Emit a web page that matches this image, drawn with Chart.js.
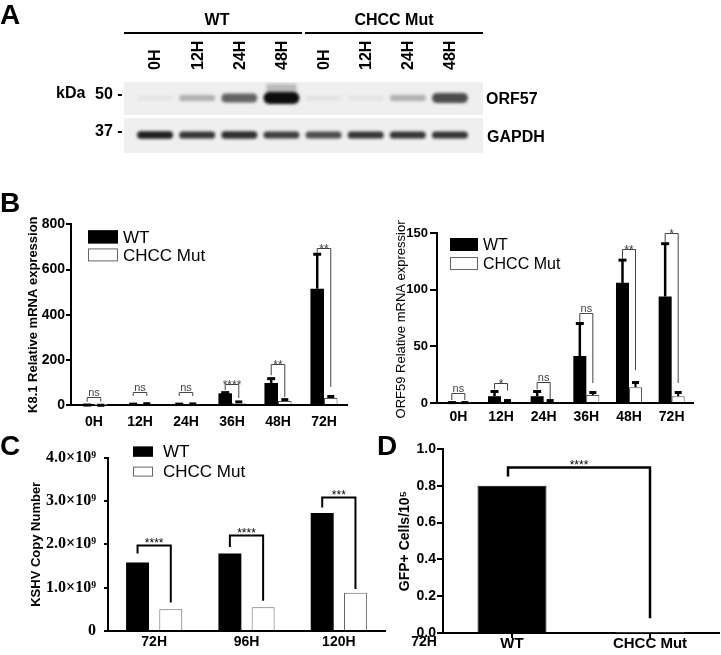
<!DOCTYPE html>
<html><head><meta charset="utf-8">
<script src="https://cdn.jsdelivr.net/npm/chart.js@4.4.1/dist/chart.umd.min.js"></script>
<style>
body{margin:0;background:#fff;width:721px;height:655px;position:relative;overflow:hidden;font-family:"Liberation Sans",Arial,sans-serif;}
canvas{position:absolute;}
.t{position:absolute;font-weight:bold;color:#000;white-space:nowrap;line-height:1;}
.c{transform:translateX(-50%);}
.ln{position:absolute;background:#000;height:2px;}
</style></head><body>
<canvas id="blot" width="721" height="180" style="left:0;top:0"></canvas>
<canvas id="k81" width="350" height="215" style="left:0;top:215px"></canvas>
<canvas id="orf59" width="361" height="215" style="left:360px;top:220px"></canvas>
<canvas id="kshv" width="400" height="215" style="left:0;top:440px"></canvas>
<canvas id="gfp" width="361" height="220" style="left:360px;top:435px"></canvas>

<div class="t" style="left:0;top:1px;font-size:28px">A</div>
<div class="t" style="left:0;top:189px;font-size:28px">B</div>
<div class="t" style="left:0;top:432px;font-size:28px">C</div>
<div class="t" style="left:377px;top:432px;font-size:28px">D</div>

<div class="t c" style="left:217px;top:12px;font-size:16px">WT</div>
<div class="t c" style="left:394px;top:12px;font-size:16px">CHCC Mut</div>
<div class="ln" style="left:124px;top:32px;width:178px"></div>
<div class="ln" style="left:305px;top:32px;width:178px"></div>
<div class="t" style="left:56px;top:85px;font-size:16px">kDa</div>
<div class="t" style="left:95px;top:86px;font-size:16px">50 -</div>
<div class="t" style="left:95px;top:123px;font-size:16px">37 -</div>
<div class="t" style="left:486px;top:91px;font-size:16px">ORF57</div>
<div class="t" style="left:487px;top:129px;font-size:16px">GAPDH</div>
<div class="t c" style="left:424px;top:634px;font-size:14px">72H</div>

<script>
// ---------------- DATA ----------------
const blotLanes = ['0H','12H','24H','48H','0H','12H','24H','48H'];
const orf57Intensity = [0.05, 0.28, 0.62, 1.0, 0.06, 0.05, 0.28, 0.72];
const gapdhIntensity = [0.92, 0.82, 0.85, 0.78, 0.72, 0.82, 0.82, 0.82];

const timeCats = ['0H','12H','24H','36H','48H','72H'];
const k81WT      = [1, 3, 3, 52, 97, 515];
const k81WTErr   = [2, 6, 6, 57, 119, 670];
const k81Mut     = [0.5, 4, 3, 9, 18, 31];
const k81MutErr  = [1, 8, 7, 16, 26, 40];
const k81SigTop  = [35, 57, 57, 93, 181, 697];
const k81SigL    = [15, 40, 40, 66, 132, 671];
const k81SigR    = [15, 40, 40, 31, 35, 80];
const k81SigLab  = ['ns','ns','ns','****','**','**'];

const orf59WT     = [0.5, 6, 6, 41.5, 106, 94];
const orf59WTErr  = [0.8, 10.6, 10.6, 70.6, 126.5, 141];
const orf59Mut    = [0.5, 1, 1, 7, 14, 6];
const orf59MutErr = [0.8, 2.6, 2.6, 9.7, 18.5, 9.7];
const orf59SigTop = [8.8, 17.6, 18.5, 79, 136, 150];
const orf59SigL   = [2.6, 12, 12, 71, 127, 142];
const orf59SigR   = [2.6, 11, 3.5, 17.6, 29, 17.6];
const orf59SigLab = ['ns','*','ns','ns','**','*'];

const kshvCats    = ['72H','96H','120H'];
const kshvWT      = [1.58e9, 1.79e9, 2.72e9];
const kshvMut     = [0.50e9, 0.55e9, 0.88e9];
const kshvSigTop  = [1.99e9, 2.21e9, 3.10e9];
const kshvSigL    = [1.79e9, 1.94e9, 2.85e9];
const kshvSigR    = [0.66e9, 0.70e9, 0.97e9];
const kshvSigLab  = ['****','****','***'];
const kshvTickLabels = ['0','1.0\u00d710\u2079','2.0\u00d710\u2079','3.0\u00d710\u2079','4.0\u00d710\u2079'];

const gfpCats   = ['WT','CHCC Mut'];
const gfpValues = [0.80, 0.003];
const gfpSigTop = [0.90];
const gfpSigL   = [0.85];
const gfpSigR   = [0.08];
const gfpSigLab = ['****'];

// ---------------- PLUGINS ----------------
const SANS = '"Liberation Sans", Arial, sans-serif';
const SERIF = '"Liberation Serif", "Times New Roman", serif';
Chart.defaults.font.family = SANS;
Chart.defaults.color = '#000';

const errPlugin = {
  id:'errbars',
  afterDatasetsDraw(chart, args, o){
    if(!o || !o.sets) return;
    const ctx = chart.ctx, y = chart.scales.y;
    ctx.save();
    o.sets.forEach(s=>{
      const meta = chart.getDatasetMeta(s.dataset);
      meta.data.forEach((bar,i)=>{
        const t = s.tops[i]; if(t==null) return;
        const yt = y.getPixelForValue(t);
        ctx.strokeStyle='#000'; ctx.lineWidth=s.lineWidth;
        ctx.beginPath(); ctx.moveTo(bar.x, bar.y); ctx.lineTo(bar.x, yt); ctx.stroke();
        ctx.fillStyle='#000';
        ctx.fillRect(bar.x - s.cap/2, yt - 1, s.cap, s.capH);
      });
    });
    ctx.restore();
  }
};

const sigPlugin = {
  id:'sig',
  afterDatasetsDraw(chart, args, o){
    if(!o || !o.tops) return;
    const ctx = chart.ctx, y = chart.scales.y;
    ctx.save();
    ctx.strokeStyle=o.color; ctx.fillStyle=o.labelColor||o.color; ctx.lineWidth=o.lineWidth;
    ctx.textAlign='center'; ctx.textBaseline='alphabetic';
    o.tops.forEach((t,i)=>{
      let x1,x2;
      if(o.single){ const d=chart.getDatasetMeta(0).data; x1=d[0].x + (o.dx1||0); x2=d[1].x; }
      else { x1=chart.getDatasetMeta(0).data[i].x; x2=chart.getDatasetMeta(1).data[i].x; }
      const yt=Math.round(y.getPixelForValue(t))+0.5;
      const yl=y.getPixelForValue(o.lefts[i]), yr=y.getPixelForValue(o.rights[i]);
      ctx.beginPath(); ctx.moveTo(x1,yl); ctx.lineTo(x1,yt); ctx.lineTo(x2,yt); ctx.lineTo(x2,yr); ctx.stroke();
      const lab=o.labels[i];
      const star = lab.indexOf('*')>=0;
      ctx.font = star ? o.starFont : o.font;
      ctx.fillText(lab,(x1+x2)/2, star ? yt + o.starOff : yt - o.textOff);
    });
    ctx.restore();
  }
};

const boxLegend = {
  id:'boxLegend',
  afterDraw(chart, args, o){
    if(!o || o.x==null) return;
    const ca=chart.chartArea, ctx=chart.ctx;
    ctx.save();
    chart.data.datasets.forEach((ds,i)=>{
      const bx=ca.left+o.x, by=ca.top+o.y+i*o.dy;
      ctx.fillStyle=ds.backgroundColor; ctx.fillRect(bx,by,o.w,o.h);
      ctx.strokeStyle= i===0 ? '#000' : '#666'; ctx.lineWidth=1;
      ctx.strokeRect(bx+0.5,by+0.5,o.w-1,o.h-1);
      ctx.fillStyle='#000'; ctx.font=o.font; ctx.textBaseline='middle'; ctx.textAlign='left';
      ctx.fillText(ds.label, bx+o.w+o.gap, by+o.h/2+1);
    });
    ctx.restore();
  }
};

const blotPlugin = {
  id:'blot',
  afterDraw(chart, args, o){
    if(!o || !o.rows) return;
    const ctx=chart.ctx, ca=chart.chartArea, xs=chart.scales.x;
    ctx.save();
    o.rows.forEach(r=>{
      const top=ca.top+r.top, bot=ca.top+r.bottom;
      ctx.fillStyle='#efefef';
      ctx.fillRect(ca.left-o.padL, top, ca.right-ca.left+o.padL+o.padR, bot-top);
    });
    ctx.filter='blur(1.6px)';
    o.rows.forEach(r=>{
      r.values.forEach((v,i)=>{
        const x=xs.getPixelForValue(i);
        const yc=ca.top+r.center;
        if(v>0.9 && r.smear){
          ctx.fillStyle='rgba(0,0,0,0.22)';
          ctx.fillRect(x-r.w/2+3, ca.top+r.top+2, r.w-6, r.center-r.top);
        }
        const h=r.h0+r.h1*v, w=r.w;
        ctx.fillStyle='rgba(12,12,12,'+Math.min(1,v)+')';
        ctx.beginPath(); ctx.roundRect(x-w/2, yc-h/2, w, h, h/2); ctx.fill();
      });
    });
    ctx.filter='none';
    ctx.fillStyle='#000'; ctx.font='bold 16px '+SANS; ctx.textAlign='left'; ctx.textBaseline='middle';
    chart.data.labels.forEach((lab,i)=>{
      const x=xs.getPixelForValue(i);
      ctx.save(); ctx.translate(x+1, o.labelY); ctx.rotate(-Math.PI/2); ctx.fillText(lab,0,0); ctx.restore();
    });
    ctx.restore();
  }
};

Chart.register(errPlugin, sigPlugin, boxLegend, blotPlugin);

const base = {responsive:false, animation:false, devicePixelRatio:1, events:[]};

// ---------------- A: blot ----------------
new Chart(document.getElementById('blot'), {
  type:'bar',
  data:{labels:blotLanes, datasets:[{data:orf57Intensity, backgroundColor:'rgba(0,0,0,0)'}]},
  options:Object.assign({}, base, {
    layout:{padding:{left:134,right:250,top:82,bottom:27}},
    scales:{x:{display:false}, y:{display:false,min:0,max:1}},
    plugins:{legend:{display:false},tooltip:{enabled:false},
      blot:{padL:10,padR:12,labelY:70,
        rows:[{top:0,bottom:33,center:16,values:orf57Intensity,w:36,h0:4,h1:8,smear:true},
              {top:36,bottom:71,center:53,values:gapdhIntensity,w:36,h0:6,h1:1.5,smear:false}]}}
  })
});

// ---------------- helpers ----------------
function yAxis(o){
  return {min:o.min,max:o.max,
    ticks:{stepSize:o.step,font:o.tickFont,color:'#000',padding:o.tickPad,callback:o.cb},
    grid:{drawOnChartArea:false,drawTicks:true,tickLength:o.tickLen,color:'#000',lineWidth:o.lw},
    border:{display:true,color:'#000',width:o.lw},
    title:{display:true,text:o.title,font:o.titleFont,color:'#000',padding:{top:o.titlePad,bottom:0}},
    afterFit(s){s.width=o.width;}};
}
function xAxis(o){
  return {
    ticks:{font:o.tickFont,color:'#000',padding:o.tickPad,autoSkip:false,maxRotation:0},
    grid:{display:!!o.tickLen,offset:false,drawOnChartArea:false,drawTicks:!!o.tickLen,tickLength:o.tickLen||0,color:'#000',lineWidth:o.lw},
    border:{display:true,color:'#000',width:o.lw},
    afterFit(s){s.height=o.height;}};
}

// ---------------- B left: K8.1 ----------------
new Chart(document.getElementById('k81'), {
  type:'bar',
  data:{labels:timeCats, datasets:[
    {label:'WT', data:k81WT, backgroundColor:'#000', borderColor:'#000', borderWidth:0, barPercentage:1, categoryPercentage:0.59},
    {label:'CHCC Mut', data:k81Mut, backgroundColor:'#fff', borderColor:'#555', borderWidth:1, barPercentage:1, categoryPercentage:0.59}]},
  options:Object.assign({}, base, {
    layout:{padding:{left:0,right:3,top:9,bottom:0}},
    scales:{
      x:xAxis({tickFont:{size:14,weight:'bold'},tickPad:9,lw:2,height:25}),
      y:yAxis({min:0,max:800,step:200,tickFont:{size:14,weight:'bold'},tickPad:1,tickLen:5,lw:2,
        title:'K8.1 Relative mRNA expression',titleFont:{size:13,weight:'bold'},titlePad:26,width:71})
    },
    plugins:{legend:{display:false},tooltip:{enabled:false},
      errbars:{sets:[{dataset:0,tops:k81WTErr,lineWidth:2.5,cap:8,capH:3},{dataset:1,tops:k81MutErr,lineWidth:2,cap:7,capH:3}]},
      sig:{tops:k81SigTop,lefts:k81SigL,rights:k81SigR,labels:k81SigLab,color:'#444',lineWidth:1,
        font:'11px '+SANS,starFont:'12px '+SANS,textOff:2,starOff:4},
      boxLegend:{x:17,y:6,dy:18,w:30,h:13,gap:5,font:'17px '+SANS}}
  })
});

// ---------------- B right: ORF59 ----------------
new Chart(document.getElementById('orf59'), {
  type:'bar',
  data:{labels:timeCats, datasets:[
    {label:'WT', data:orf59WT, backgroundColor:'#000', borderColor:'#000', borderWidth:0, barPercentage:1, categoryPercentage:0.61},
    {label:'CHCC Mut', data:orf59Mut, backgroundColor:'#fff', borderColor:'#555', borderWidth:1, barPercentage:1, categoryPercentage:0.61}]},
  options:Object.assign({}, base, {
    layout:{padding:{left:0,right:28,top:13,bottom:0}},
    scales:{
      x:xAxis({tickFont:{size:14,weight:'bold'},tickPad:6,lw:2,height:32}),
      y:yAxis({min:0,max:150,step:50,tickFont:{size:13,weight:'bold'},tickPad:2,tickLen:7,lw:2,
        title:'ORF59 Relative mRNA expression',titleFont:{size:13},titlePad:34,width:77})
    },
    plugins:{legend:{display:false},tooltip:{enabled:false},
      errbars:{sets:[{dataset:0,tops:orf59WTErr,lineWidth:2.5,cap:8,capH:3},{dataset:1,tops:orf59MutErr,lineWidth:2,cap:7,capH:3}]},
      sig:{tops:orf59SigTop,lefts:orf59SigL,rights:orf59SigR,labels:orf59SigLab,color:'#444',lineWidth:1,
        font:'11px '+SANS,starFont:'12px '+SANS,textOff:2,starOff:4},
      boxLegend:{x:13,y:5,dy:19,w:28,h:13,gap:5,font:'16px '+SANS}}
  })
});

// ---------------- C: KSHV copy number ----------------
new Chart(document.getElementById('kshv'), {
  type:'bar',
  data:{labels:kshvCats, datasets:[
    {label:'WT', data:kshvWT, backgroundColor:'#000', borderColor:'#000', borderWidth:0, barPercentage:0.69, categoryPercentage:0.72},
    {label:'CHCC Mut', data:kshvMut, backgroundColor:'#fff', borderColor:'#666', borderWidth:1, barPercentage:0.69, categoryPercentage:0.72}]},
  options:Object.assign({}, base, {
    layout:{padding:{left:0,right:15,top:14,bottom:0}},
    scales:{
      x:xAxis({tickFont:{size:14,weight:'bold'},tickPad:3,lw:2,height:24}),
      y:yAxis({min:0,max:4e9,step:1e9,tickFont:{size:16,weight:'bold',family:SERIF},tickPad:8,tickLen:4,lw:2,
        cb:(v,i)=>kshvTickLabels[i],
        title:'KSHV Copy Number',titleFont:{size:13,weight:'bold'},titlePad:29,width:108})
    },
    plugins:{legend:{display:false},tooltip:{enabled:false},
      sig:{tops:kshvSigTop,lefts:kshvSigL,rights:kshvSigR,labels:kshvSigLab,color:'#000',lineWidth:2,
        font:'12px '+SANS,starFont:'12px '+SANS,textOff:2,starOff:1},
      boxLegend:{x:25,y:-11,dy:20,w:20,h:10,gap:10,font:'17px '+SANS}}
  })
});

// ---------------- D: GFP+ cells ----------------
new Chart(document.getElementById('gfp'), {
  type:'bar',
  data:{labels:gfpCats, datasets:[
    {label:'GFP', data:gfpValues, backgroundColor:['#000','#fff'], borderColor:['#000','#777'], borderWidth:1, barPercentage:0.5, categoryPercentage:1}]},
  options:Object.assign({}, base, {
    layout:{padding:{left:0,right:2,top:14,bottom:0}},
    scales:{
      x:xAxis({tickFont:{size:15,weight:'bold'},tickPad:-3,tickLen:5,lw:2,height:22}),
      y:yAxis({min:0,max:1,step:0.2,tickFont:{size:14,weight:'bold'},tickPad:1,tickLen:6,lw:2,
        cb:(v)=>v.toFixed(1),
        title:'GFP+ Cells/10\u2075',titleFont:{size:14,weight:'bold'},titlePad:37,width:83})
    },
    plugins:{legend:{display:false},tooltip:{enabled:false},
      sig:{single:true,dx1:-4,tops:gfpSigTop,lefts:gfpSigL,rights:gfpSigR,labels:gfpSigLab,color:'#000',lineWidth:2.5,
        font:'12px '+SANS,starFont:'12px '+SANS,textOff:2,starOff:1}}
  })
});
</script>
</body></html>
